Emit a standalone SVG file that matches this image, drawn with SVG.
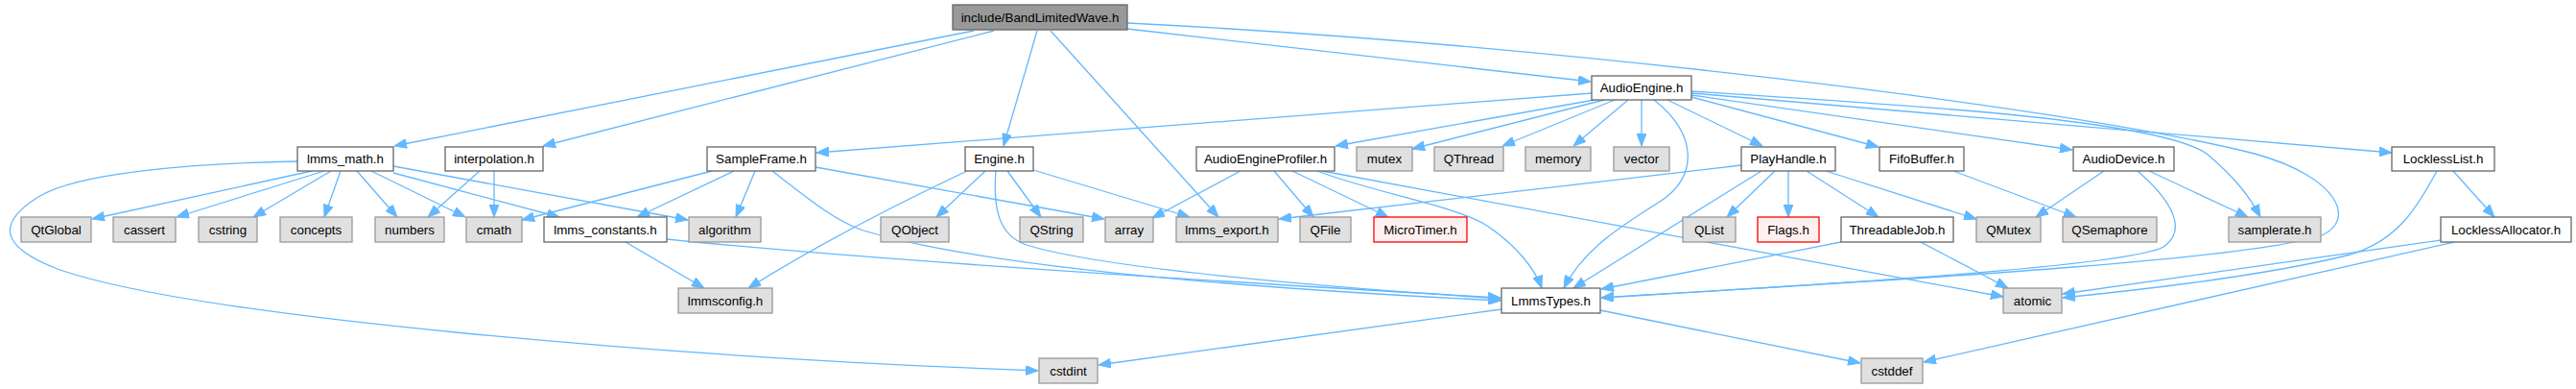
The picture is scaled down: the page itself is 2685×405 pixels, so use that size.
<svg xmlns="http://www.w3.org/2000/svg" width="2685" height="405" viewBox="0 0 2685 405">
<style>
.n rect{fill:#ffffff;stroke:#666666;stroke-width:1.3}
.g rect{fill:#e0e0e0;stroke:#999999;stroke-width:1.3}
.r rect{fill:#fff0f0;stroke:#ff0000;stroke-width:1.3}
.root rect{fill:#999999;stroke:#666666;stroke-width:1.3}
text{font-family:"Liberation Sans",Arial,Helvetica,sans-serif;font-size:13.33px;fill:#000000;text-anchor:middle}
#edges path{fill:none;stroke:#63b8ff;stroke-width:1.3;marker-end:url(#a)}
</style>
<defs>
<marker id="a" viewBox="0 0 13 10" refX="13" refY="5" markerWidth="13" markerHeight="10" orient="auto" markerUnits="userSpaceOnUse">
<path d="M0,0 L13,5 L0,10 z" fill="#63b8ff" stroke="#63b8ff" stroke-width="1"/>
</marker>
</defs>
<rect width="2685" height="405" fill="#ffffff"/>
<g id="edges">
<path d="M1015,32 L411,152"/>
<path d="M1036,32 L566,152"/>
<path d="M1081,32 L1046,152"/>
<path d="M1095,32 L1270,226"/>
<path d="M1175,30 L1658,85"/>
<path d="M1175,24 C1600,45 2150,110 2350,160 C2440,185 2455,230 2420,245 C2330,275 1850,298 1669,310"/>
<path d="M1659,97 L851,159"/>
<path d="M1662,104 L1392,152"/>
<path d="M1672,104 L1472,155"/>
<path d="M1683,104 L1566,152"/>
<path d="M1697,104 L1640,152"/>
<path d="M1711,104 L1711,152"/>
<path d="M1724,104 C1770,140 1770,185 1730,210 C1690,235 1650,260 1630,300"/>
<path d="M1738,104 L1837,152"/>
<path d="M1763,101 L1958,153"/>
<path d="M1763,99 L2160,156"/>
<path d="M1763,95 C2000,110 2250,125 2300,160 C2330,185 2345,205 2356,226"/>
<path d="M1763,97 L2493,159"/>
<path d="M1293,178 L1201,227"/>
<path d="M1328,178 L1369,226"/>
<path d="M1347,178 L1447,226"/>
<path d="M1373,178 C1430,200 1520,215 1550,235 C1580,255 1600,280 1607,300"/>
<path d="M1378,178 L2088,309"/>
<path d="M742,178 L544,229"/>
<path d="M765,178 L664,226"/>
<path d="M787,178 L767,226"/>
<path d="M805,178 C840,205 870,230 900,240 C1050,285 1400,305 1564,313"/>
<path d="M850,174 L1151,228"/>
<path d="M310,168 C200,170 80,180 40,205 C0,230 -5,255 60,280 C200,330 700,372 1082,386"/>
<path d="M325,178 L96,228"/>
<path d="M338,178 L184,226"/>
<path d="M345,178 L264,226"/>
<path d="M355,178 L338,226"/>
<path d="M372,178 L414,226"/>
<path d="M387,178 L485,226"/>
<path d="M410,180 L583,226"/>
<path d="M410,173 L717,229"/>
<path d="M500,178 L446,226"/>
<path d="M515,178 L515,226"/>
<path d="M652,252 L734,300"/>
<path d="M695,249 C900,270 1300,295 1564,310"/>
<path d="M1008,178 C940,210 860,250 780,300"/>
<path d="M1027,178 L976,226"/>
<path d="M1038,178 C1035,215 1040,245 1070,255 C1150,280 1400,300 1564,311"/>
<path d="M1050,178 L1085,226"/>
<path d="M1077,177 L1240,226"/>
<path d="M1815,172 L1333,228"/>
<path d="M1836,178 L1640,300"/>
<path d="M1850,178 L1800,226"/>
<path d="M1864,178 L1864,226"/>
<path d="M1883,178 L1958,226"/>
<path d="M1903,178 L2060,228"/>
<path d="M2036,178 L2164,226"/>
<path d="M2193,178 L2122,226"/>
<path d="M2240,178 L2343,226"/>
<path d="M2228,178 C2265,210 2280,240 2255,257 C2215,280 1800,302 1669,310"/>
<path d="M1919,252 L1669,301"/>
<path d="M2002,252 L2093,300"/>
<path d="M2540,178 C2520,215 2500,250 2450,265 C2350,290 2200,305 2150,310"/>
<path d="M2557,178 L2600,226"/>
<path d="M2544,250 L2150,306"/>
<path d="M2558,252 L2005,377"/>
<path d="M1565,322 L1145,380"/>
<path d="M1668,323 L1939,378"/>
</g>
<g id="root" class="root"><rect x="993" y="5" width="182" height="26"/><text x="1084" y="22.5">include/BandLimitedWave.h</text></g>
<g id="AudioEngine" class="n"><rect x="1659" y="79" width="104" height="25"/><text x="1711" y="96">AudioEngine.h</text></g>
<g id="lmms_math" class="n"><rect x="310" y="153" width="100" height="25"/><text x="360" y="170">lmms_math.h</text></g>
<g id="interpolation" class="n"><rect x="464" y="153" width="102" height="25"/><text x="515" y="170">interpolation.h</text></g>
<g id="SampleFrame" class="n"><rect x="737" y="153" width="113" height="25"/><text x="793.5" y="170">SampleFrame.h</text></g>
<g id="Engine" class="n"><rect x="1006" y="153" width="71" height="25"/><text x="1041.5" y="170">Engine.h</text></g>
<g id="AudioEngineProfiler" class="n"><rect x="1247" y="153" width="144" height="25"/><text x="1319" y="170">AudioEngineProfiler.h</text></g>
<g id="mutex" class="g"><rect x="1414" y="153" width="58" height="25"/><text x="1443" y="170">mutex</text></g>
<g id="QThread" class="g"><rect x="1495" y="153" width="72" height="25"/><text x="1531" y="170">QThread</text></g>
<g id="memory" class="g"><rect x="1590" y="153" width="68" height="25"/><text x="1624" y="170">memory</text></g>
<g id="vector" class="g"><rect x="1682" y="153" width="58" height="25"/><text x="1711" y="170">vector</text></g>
<g id="PlayHandle" class="n"><rect x="1815" y="153" width="98" height="25"/><text x="1864" y="170">PlayHandle.h</text></g>
<g id="FifoBuffer" class="n"><rect x="1959" y="153" width="88" height="25"/><text x="2003" y="170">FifoBuffer.h</text></g>
<g id="AudioDevice" class="n"><rect x="2161" y="153" width="105" height="25"/><text x="2213.5" y="170">AudioDevice.h</text></g>
<g id="LocklessList" class="n"><rect x="2493" y="153" width="107" height="25"/><text x="2546.5" y="170">LocklessList.h</text></g>
<g id="QtGlobal" class="g"><rect x="22" y="226" width="73" height="26"/><text x="58.5" y="243.5">QtGlobal</text></g>
<g id="cassert" class="g"><rect x="118" y="226" width="65" height="26"/><text x="150.5" y="243.5">cassert</text></g>
<g id="cstring" class="g"><rect x="207" y="226" width="61" height="26"/><text x="237.5" y="243.5">cstring</text></g>
<g id="concepts" class="g"><rect x="292" y="226" width="75" height="26"/><text x="329.5" y="243.5">concepts</text></g>
<g id="numbers" class="g"><rect x="391" y="226" width="72" height="26"/><text x="427" y="243.5">numbers</text></g>
<g id="cmath" class="g"><rect x="486" y="226" width="58" height="26"/><text x="515" y="243.5">cmath</text></g>
<g id="lmms_constants" class="n"><rect x="567" y="226" width="128" height="26"/><text x="631" y="243.5">lmms_constants.h</text></g>
<g id="algorithm" class="g"><rect x="718" y="226" width="75" height="26"/><text x="755.5" y="243.5">algorithm</text></g>
<g id="QObject" class="g"><rect x="918" y="226" width="71" height="26"/><text x="953.5" y="243.5">QObject</text></g>
<g id="QString" class="g"><rect x="1063" y="226" width="66" height="26"/><text x="1096" y="243.5">QString</text></g>
<g id="array" class="g"><rect x="1152" y="226" width="50" height="26"/><text x="1177" y="243.5">array</text></g>
<g id="lmms_export" class="g"><rect x="1226" y="226" width="106" height="26"/><text x="1279" y="243.5">lmms_export.h</text></g>
<g id="QFile" class="g"><rect x="1355" y="226" width="53" height="26"/><text x="1381.5" y="243.5">QFile</text></g>
<g id="MicroTimer" class="r"><rect x="1432" y="226" width="97" height="26"/><text x="1480.5" y="243.5">MicroTimer.h</text></g>
<g id="QList" class="g"><rect x="1754" y="226" width="55" height="26"/><text x="1781.5" y="243.5">QList</text></g>
<g id="Flags" class="r"><rect x="1832" y="226" width="64" height="26"/><text x="1864" y="243.5">Flags.h</text></g>
<g id="ThreadableJob" class="n"><rect x="1919" y="226" width="117" height="26"/><text x="1977.5" y="243.5">ThreadableJob.h</text></g>
<g id="QMutex" class="g"><rect x="2060" y="226" width="67" height="26"/><text x="2093.5" y="243.5">QMutex</text></g>
<g id="QSemaphore" class="g"><rect x="2150" y="226" width="98" height="26"/><text x="2199" y="243.5">QSemaphore</text></g>
<g id="samplerate" class="g"><rect x="2323" y="226" width="96" height="26"/><text x="2371" y="243.5">samplerate.h</text></g>
<g id="LocklessAllocator" class="n"><rect x="2544" y="226" width="136" height="26"/><text x="2612" y="243.5">LocklessAllocator.h</text></g>
<g id="lmmsconfig" class="g"><rect x="707" y="300" width="98" height="26"/><text x="756" y="317.5">lmmsconfig.h</text></g>
<g id="LmmsTypes" class="n"><rect x="1565" y="300" width="103" height="26"/><text x="1616.5" y="317.5">LmmsTypes.h</text></g>
<g id="atomic" class="g"><rect x="2088" y="300" width="61" height="26"/><text x="2118.5" y="317.5">atomic</text></g>
<g id="cstdint" class="g"><rect x="1083" y="373" width="61" height="26"/><text x="1113.5" y="390.5">cstdint</text></g>
<g id="cstddef" class="g"><rect x="1940" y="373" width="64" height="26"/><text x="1972" y="390.5">cstddef</text></g>
</svg>
